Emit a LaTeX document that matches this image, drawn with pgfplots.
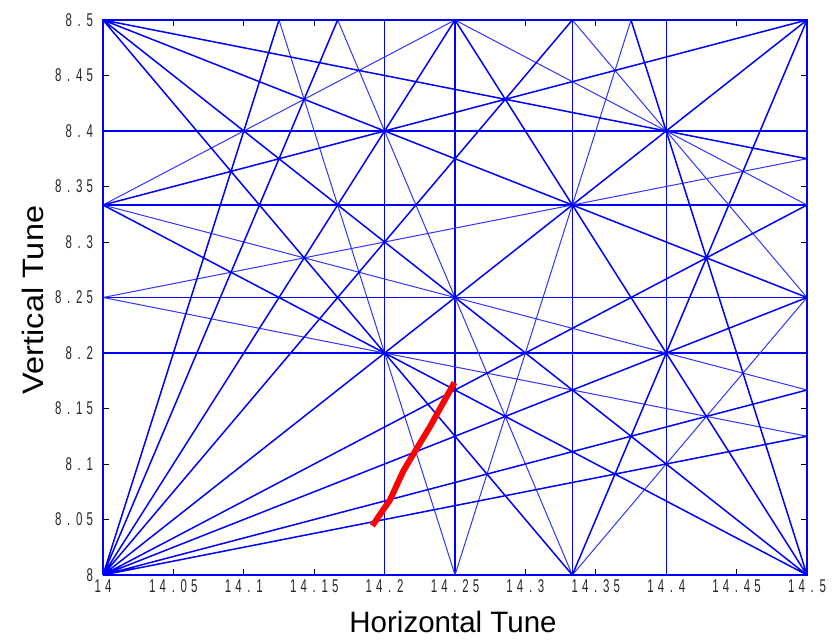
\documentclass[border=0pt]{standalone}
\usepackage{pgfplots}
\pgfplotsset{compat=1.18}
\usepackage{fontspec}
\setmainfont{Liberation Sans}
\newfontfamily\tickfont[FakeStretch=0.62]{Liberation Sans}
\def\spc#1{\hbox{\tickfont\fontsize{18.5}{18.5}\selectfont\spx#1\relax}}
\def\spx#1{\ifx#1\relax\else\hbox to 10.5pt{\hss#1\hss}\expandafter\spx\fi}
\pgfplotsset{
  thk/.style={blue, line width=1.5pt, mark=none},
  thn/.style={blue!80, line width=1pt, mark=none},
  hv/.style={color=blue, line width=1.3pt, mark=none},
}
\begin{document}
\begin{tikzpicture}
\begin{axis}[
  at={(103pt,65pt)}, anchor=south west,
  scale only axis, width=704pt, height=555pt,
  xmin=14, xmax=14.5, ymin=8, ymax=8.5,
  clip=false, unbounded coords=jump,
  xtick={14,14.05,14.1,14.15,14.2,14.25,14.3,14.35,14.4,14.45,14.5},
  xticklabels={\spc{14},\spc{14.05},\spc{14.1},\spc{14.15},\spc{14.2},\spc{14.25},\spc{14.3},\spc{14.35},\spc{14.4},\spc{14.45},\spc{14.5}},
  ytick={8,8.05,8.1,8.15,8.2,8.25,8.3,8.35,8.4,8.45,8.5},
  yticklabels={\spc{8},\spc{8.05},\spc{8.1},\spc{8.15},\spc{8.2},\spc{8.25},\spc{8.3},\spc{8.35},\spc{8.4},\spc{8.45},\spc{8.5}},
  ticklabel style={text=black!85},
  xticklabel style={yshift=-1pt},
  yticklabel style={xshift=-4.5pt},
  tick align=inside, major tick length=6pt,
  tick style={black, line width=0.6pt},
  axis line style={black, line width=0.8pt},
  xlabel={Horizontal Tune},
  ylabel={\scalebox{1.1}[1]{Vertical Tune}},
  xlabel style={font=\fontsize{29.5}{30}\selectfont, at={(axis description cs:0.4972,-0.1045)}, anchor=base},
  ylabel style={font=\fontsize{29.5}{30}\selectfont, at={(axis description cs:-0.0845,0.4955)}, anchor=base},
]
% vertical resonance lines
\addplot[hv] coordinates {(14.2,8) (14.2,8.5)};
\addplot[hv] coordinates {(14.25,8) (14.25,8.5)};
\addplot[hv] coordinates {(14.33333,8) (14.33333,8.5)};
\addplot[hv] coordinates {(14.4,8) (14.4,8.5)};
% horizontal resonance lines
\addplot[hv] coordinates {(14,8.2) (14.5,8.2)};
\addplot[hv] coordinates {(14,8.25) (14.5,8.25)};
\addplot[hv] coordinates {(14,8.33333) (14.5,8.33333)};
\addplot[hv] coordinates {(14,8.4) (14.5,8.4)};
% thin resonance lines
\addplot[thn] coordinates {
  (14.33333,8) (14.16667,8.5) (nan,nan)
  (14,8.33333) (14.5,8.16667) (nan,nan)
  (14.25,8) (14.125,8.5) (nan,nan)
  (14,8.25) (14.5,8.125) (nan,nan)
  (14.25,8) (14.375,8.5) (nan,nan)
  (14,8.25) (14.5,8.375) (nan,nan)
  (14.5,8.25) (14.33333,8.5) (nan,nan)
  (14.5,8.33333) (14.25,8.5) (nan,nan)
  (14.33333,8) (14.5,8.25) (nan,nan)
  (14,8.33333) (14.25,8.5)};
% thick resonance lines
\addplot[thk] coordinates {
  (14,8) (14.5,8.5) (nan,nan)
  (14,8.5) (14.5,8) (nan,nan)
  (14.5,8) (14.25,8.5) (nan,nan)
  (14,8.5) (14.5,8.25) (nan,nan)
  (14,8) (14.25,8.5) (nan,nan)
  (14,8) (14.5,8.25) (nan,nan)
  (14,8) (14.16667,8.5) (nan,nan)
  (14.33333,8) (14.5,8.5) (nan,nan)
  (14,8) (14.5,8.16667) (nan,nan)
  (14,8.33333) (14.5,8.5) (nan,nan)
  (14.5,8) (14.375,8.5) (nan,nan)
  (14,8.5) (14.5,8.375) (nan,nan)
  (14,8) (14.125,8.5) (nan,nan)
  (14,8) (14.5,8.125) (nan,nan)
  (14.33333,8) (14,8.5) (nan,nan)
  (14.5,8) (14,8.33333) (nan,nan)
  (14,8) (14.33333,8.5) (nan,nan)
  (14,8) (14.5,8.33333)};
% border resonance lines
\addplot[blue, line width=2.2pt, mark=none] coordinates {(14,8) (14.5,8) (14.5,8.5) (14,8.5) (14,8)};
% measured tune path
\addplot[red, line width=6pt, mark=none] coordinates {
  (14.1913,8.0444) (14.2038,8.0676) (14.2133,8.0937) (14.2192,8.1063) (14.2322,8.1336) (14.2496,8.1734)};
\end{axis}
\path (0,0) rectangle (839pt,640pt);
\end{tikzpicture}
\end{document}
